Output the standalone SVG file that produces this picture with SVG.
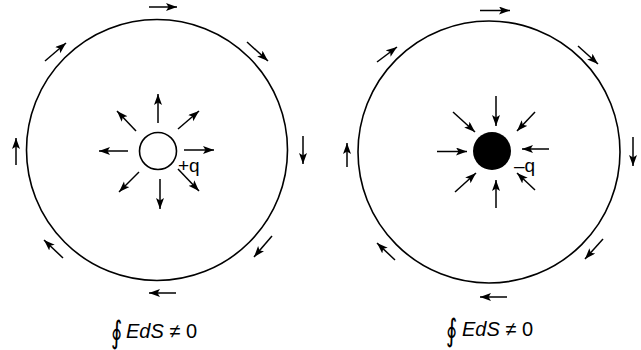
<svg xmlns="http://www.w3.org/2000/svg" width="641" height="350" viewBox="0 0 641 350">
<style>
.ring{fill:none;stroke:#000;stroke-width:1.6}
.ar{fill:none;stroke:#000;stroke-width:1.5;marker-end:url(#ah)}
.lbl{font-family:"Liberation Sans",Arial,sans-serif;font-size:19px;fill:#000}
.eq{font-family:"Liberation Sans",Arial,sans-serif;font-size:20px;fill:#000}
.int{font-family:"DejaVu Sans",sans-serif;font-size:31px;fill:#000}
</style>
<defs>
<marker id="ah" markerUnits="userSpaceOnUse" markerWidth="13" markerHeight="9" refX="11" refY="4" orient="auto">
<path d="M0,0 L11,4 L0,8 L2.5,4 z" fill="#000"/>
</marker>
</defs>
<rect width="641" height="350" fill="#fff"/>
<g id="left-surface"><circle class="ring" cx="157" cy="150" r="130.5"/></g>
<g id="left-charge"><circle class="ring" cx="158" cy="151" r="18.5"/><text class="lbl" x="178" y="172">+q</text></g>
<g id="right-surface"><circle class="ring" cx="489" cy="152" r="131"/></g>
<g id="right-charge"><circle cx="492" cy="151" r="19" fill="#000"/><text class="lbl" x="514" y="172">–q</text></g>
<g id="connectors">
<g id="left-outer-arrows">
<line class="ar" x1="149" y1="7" x2="177" y2="7"/>
<line class="ar" x1="247" y1="42" x2="268" y2="61"/>
<line class="ar" x1="45" y1="61" x2="66" y2="43"/>
<line class="ar" x1="16" y1="165" x2="16" y2="138"/>
<line class="ar" x1="303" y1="136" x2="303" y2="164"/>
<line class="ar" x1="63" y1="258" x2="44" y2="240"/>
<line class="ar" x1="272" y1="236" x2="254" y2="257"/>
<line class="ar" x1="176" y1="293" x2="149" y2="293"/>
</g>
<g id="left-inner-arrows">
<line class="ar" x1="158" y1="123" x2="158" y2="94"/>
<line class="ar" x1="160" y1="179" x2="160" y2="209"/>
<line class="ar" x1="128" y1="151" x2="99" y2="151"/>
<line class="ar" x1="184" y1="150" x2="214" y2="150"/>
<line class="ar" x1="136" y1="131" x2="117" y2="111"/>
<line class="ar" x1="178" y1="129" x2="199" y2="111"/>
<line class="ar" x1="139" y1="172" x2="119" y2="192"/>
<line class="ar" x1="178" y1="169" x2="199" y2="191"/>
</g>
<g id="right-outer-arrows">
<line class="ar" x1="480" y1="10.5" x2="510" y2="10.5"/>
<line class="ar" x1="578" y1="46" x2="598" y2="64"/>
<line class="ar" x1="377" y1="62" x2="397" y2="47"/>
<line class="ar" x1="347" y1="167" x2="347" y2="143"/>
<line class="ar" x1="633" y1="137" x2="633" y2="166"/>
<line class="ar" x1="395" y1="260" x2="377" y2="243"/>
<line class="ar" x1="603" y1="239" x2="585" y2="259"/>
<line class="ar" x1="507" y1="297" x2="480" y2="297"/>
</g>
<g id="right-inner-arrows">
<line class="ar" x1="496" y1="96" x2="496" y2="126"/>
<line class="ar" x1="496" y1="208" x2="496" y2="180"/>
<line class="ar" x1="437" y1="151.5" x2="467" y2="151.5"/>
<line class="ar" x1="549" y1="149" x2="522" y2="149"/>
<line class="ar" x1="453" y1="112" x2="475" y2="132"/>
<line class="ar" x1="535" y1="112" x2="517" y2="131"/>
<line class="ar" x1="455" y1="192" x2="476" y2="173"/>
<line class="ar" x1="535" y1="190" x2="517" y2="173"/>
</g>
</g>
<g id="left-formula"><text class="int" transform="translate(111,343) scale(0.7,1)">∮</text><text class="eq" x="126" y="338"><tspan font-style="italic">EdS</tspan> ≠ 0</text></g>
<g id="right-formula"><text class="int" transform="translate(446,341) scale(0.7,1)">∮</text><text class="eq" x="462" y="336"><tspan font-style="italic">EdS</tspan> ≠ 0</text></g>
</svg>
